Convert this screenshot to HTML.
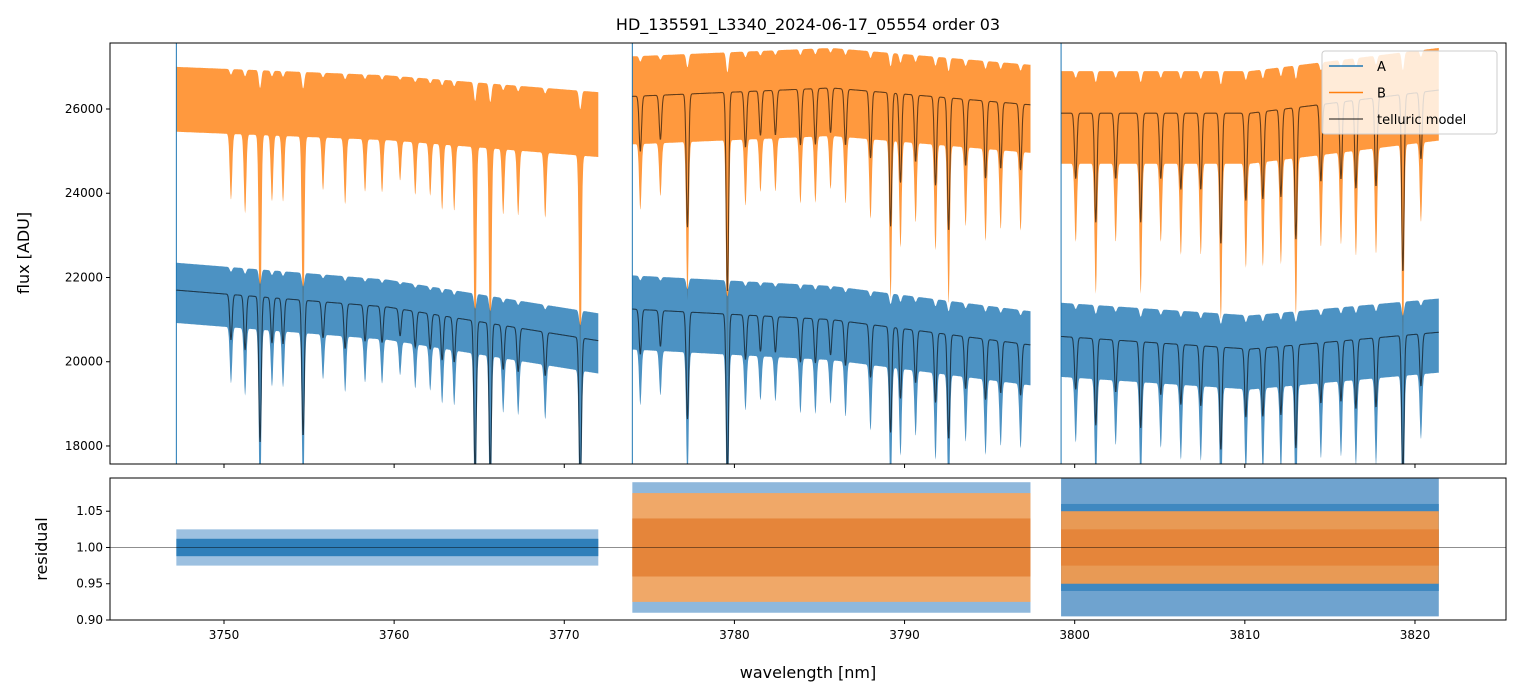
<!DOCTYPE html>
<html><head><meta charset="utf-8">
<style>
html,body{margin:0;padding:0;background:#fff;}
svg{display:block;font-family:"DejaVu Sans","Liberation Sans",sans-serif;}
</style></head>
<body>
<svg id="chart" width="1520" height="696" viewBox="0 0 1520 696" xmlns="http://www.w3.org/2000/svg">
<text x="808" y="30" font-size="16" text-anchor="middle">HD_135591_L3340_2024-06-17_05554  order 03</text>
<g id="toppanel"></g>
<g id="botpanel"></g>
<text x="808" y="678" font-size="16" text-anchor="middle">wavelength [nm]</text>
<text transform="translate(29,253) rotate(-90)" font-size="16" text-anchor="middle">flux [ADU]</text>
<text transform="translate(47,549) rotate(-90)" font-size="16" text-anchor="middle">residual</text>
</svg>
<script>
// ---- data ----
const segments = [[3747.2,3772.0],[3774.0,3797.4],[3799.2,3821.4]];
const contANodes = [[21700,21300,20500],[21250,21000,20400],[20600,20300,20700]];
const contBNodes = [[26300,26100,25700],[26300,26500,26100],[25900,25900,26450]];
const dipWl = [3750.41,3751.24,3752.12,3752.82,3753.47,3754.65,3755.82,3757.12,3758.29,3759.29,3760.35,3761.24,3762.12,3762.82,3763.53,3764.76,3765.65,3766.41,3767.29,3768.88,3770.94,
3774.47,3775.65,3777.24,3779.59,3780.65,3781.53,3782.41,3783.88,3784.76,3785.65,3786.53,3788.0,3789.18,3789.76,3790.65,3791.82,3792.59,3793.59,3794.76,3795.65,3796.82,
3800.06,3801.24,3802.41,3803.88,3805.06,3806.24,3807.41,3808.59,3810.06,3811.06,3812.12,3813.0,3814.47,3815.65,3816.53,3817.71,3819.29,3820.35];
const dipDepth = [0.05,0.06,0.16,0.05,0.05,0.15,0.04,0.05,0.04,0.04,0.03,0.04,0.04,0.05,0.05,0.17,0.17,0.05,0.05,0.05,0.17,
0.05,0.04,0.12,0.18,0.05,0.04,0.04,0.05,0.05,0.04,0.05,0.06,0.12,0.08,0.06,0.08,0.12,0.06,0.07,0.06,0.06,
0.06,0.10,0.06,0.10,0.06,0.07,0.07,0.12,0.08,0.08,0.08,0.12,0.07,0.07,0.08,0.08,0.16,0.06];
const noiseHalfA = [650,800,800];
const noiseHalfB = [700,950,1000];
const resLayerSeg = [0,0,1,1,1,2,2,2,2];
const resLayerHalf = [0.025,0.012,0.09,0.075,0.04,0.095,0.06,0.05,0.025];
const resLayerColor = ['#9cc0e0','#2f7fba','#8fb8dc','#f0a868','#e5853a','#6fa3cf','#3f88c0','#e89a55','#e5853a'];
const xTicks = [3750,3760,3770,3780,3790,3800,3810,3820];
const yTicksTop = [18000,20000,22000,24000,26000];
const yTicksBot = [0.90,0.95,1.00,1.05];

// ---- axes ----
const L=110,R=1506,T1=43,B1=464,T2=478,B2=620;
const xmin=3743.3,xmax=3825.35;
const X=w=>L+(w-xmin)/(xmax-xmin)*(R-L);
const Y1=v=>B1-(v-17572)/(27567-17572)*(B1-T1);
const Y2=v=>B2-(v-0.90)/(1.0958-0.90)*(B2-T2);
const NS='http://www.w3.org/2000/svg';
function mk(tag,attrs,parent){const e=document.createElementNS(NS,tag);for(const k in attrs)e.setAttribute(k,attrs[k]);parent.appendChild(e);return e;}
const gTopPanel=document.getElementById('toppanel'),gBotPanel=document.getElementById('botpanel');
const cp1=mk('clipPath',{id:'c1'},gTopPanel);mk('rect',{x:L,y:T1,width:R-L,height:B1-T1},cp1);
const cp2=mk('clipPath',{id:'c2'},gBotPanel);mk('rect',{x:L,y:T2,width:R-L,height:B2-T2},cp2);

function cont(nodes,seg,w){const m=(seg[0]+seg[1])/2;return w<m?nodes[0]+(nodes[1]-nodes[0])*(w-seg[0])/(m-seg[0]):nodes[1]+(nodes[2]-nodes[1])*(w-m)/(seg[1]-m);}
function trans(w){let t=1;for(let i=0;i<dipWl.length;i++){const d=(w-dipWl[i])/0.1;t*=1-dipDepth[i]*Math.exp(-d*d);}return t;}

const gTop=mk('g',{'clip-path':'url(#c1)'},gTopPanel);
const gBot=mk('g',{'clip-path':'url(#c2)'},gBotPanel);

function band(nodes,si,half,color,parent,name){
  const seg=segments[si];const up=[],lo=[];
  for(let w=seg[0];w<=seg[1];w+=0.02){const tr=trans(w);const c=cont(nodes[si],seg,w);const m=c*tr;
    up.push(X(w).toFixed(1)+','+Y1(c*(1-(1-tr)*0.1)+half).toFixed(1));
    lo.push(X(w).toFixed(1)+','+Y1(m-half*1.2-(1-tr)*5000).toFixed(1));}
  const p=mk('polygon',{points:up.concat(lo.reverse()).join(' '),fill:color,'fill-opacity':0.8},parent);
  
  
}
function model(nodes,si,parent,name){
  const seg=segments[si];const pts=[];
  for(let w=seg[0];w<=seg[1];w+=0.02){pts.push(X(w).toFixed(1)+','+Y1(cont(nodes[si],seg,w)*trans(w)).toFixed(1));}
  const p=mk('polyline',{points:pts.join(' '),fill:'none',stroke:'#000','stroke-opacity':0.6,'stroke-width':1.1},parent);
  
  
}
for(let s=0;s<3;s++){
  band(contBNodes,s,noiseHalfB[s],'#ff7f0e',gTop,'series-b-band');
  band(contANodes,s,noiseHalfA[s],'#1f77b4',gTop,'series-a-band');
  const sp=mk('line',{x1:X(segments[s][0]),x2:X(segments[s][0]),y1:T1,y2:B1,stroke:'#1f77b4','stroke-width':1},gTop);
  
  
}
for(let s=0;s<3;s++){
  model(contANodes,s,gTop,'telluric-model-a');
  if(s>0) model(contBNodes,s,gTop,'telluric-model-b');
}
for(let i=0;i<resLayerSeg.length;i++){
  const seg=segments[resLayerSeg[i]];const h=resLayerHalf[i];
  const r=mk('rect',{x:X(seg[0]),width:X(seg[1])-X(seg[0]),y:Y2(1+h),height:Y2(1-h)-Y2(1+h),fill:resLayerColor[i]},gBot);
  
  
}
const ref=mk('line',{x1:L,x2:R,y1:Y2(1),y2:Y2(1),stroke:'#000','stroke-width':0.6,'stroke-opacity':0.7},gBot);



for(const [t,b,g] of [[T1,B1,gTopPanel],[T2,B2,gBotPanel]]){
  const f=mk('rect',{x:L,y:t,width:R-L,height:b-t,fill:'none',stroke:'#000','stroke-width':1},g);
  
  
  for(const v of xTicks){mk('line',{x1:X(v),x2:X(v),y1:b,y2:b+4,stroke:'#000'},g);}
}
for(const v of xTicks){const t=mk('text',{x:X(v),y:B2+19,'font-size':12,'text-anchor':'middle'},gBotPanel);t.textContent=v;
  
  }
for(const v of yTicksTop){mk('line',{x1:L-4,x2:L,y1:Y1(v),y2:Y1(v),stroke:'#000'},gTopPanel);
  const t=mk('text',{x:L-7,y:Y1(v)+4,'font-size':12,'text-anchor':'end'},gTopPanel);t.textContent=v;
  
  }
for(const v of yTicksBot){mk('line',{x1:L-4,x2:L,y1:Y2(v),y2:Y2(v),stroke:'#000'},gBotPanel);
  const t=mk('text',{x:L-7,y:Y2(v)+4,'font-size':12,'text-anchor':'end'},gBotPanel);t.textContent=v.toFixed(2);
  
  }

const lg=mk('g',{},gTopPanel);


mk('rect',{x:1322,y:51,width:175,height:83,rx:3,fill:'#fff','fill-opacity':0.8,stroke:'#ccc'},lg);
const items=[['A','#1f77b4',1],['B','#ff7f0e',1],['telluric model','#000',0.6]];
items.forEach((it,i)=>{const y=66+i*26.5;
  const ln=mk('line',{x1:1329,x2:1363,y1:y,y2:y,stroke:it[1],'stroke-opacity':it[2],'stroke-width':1.5},lg);
  
  
  const t=mk('text',{x:1377,y:y+5,'font-size':13},lg);t.textContent=it[0];
  
  });
</script>
</body></html>
